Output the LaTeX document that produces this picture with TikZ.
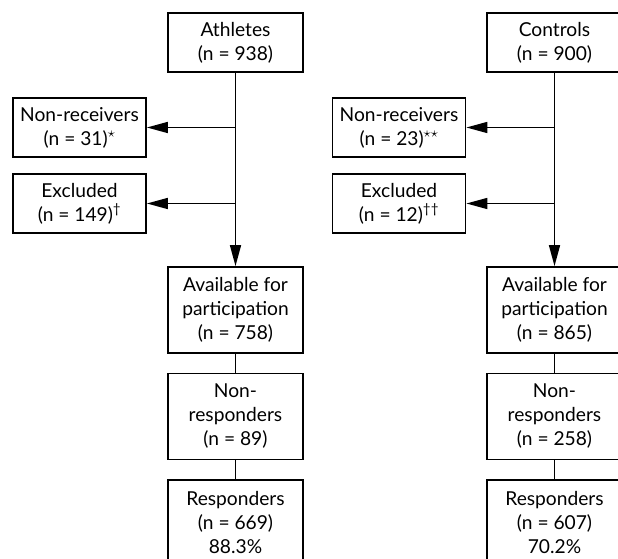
\documentclass[tikz,border=0pt]{standalone}
\usepackage{fontspec}
\setmainfont{Lato}
\usetikzlibrary{arrows.meta}

\begin{document}
\begin{tikzpicture}[x=1pt,y=1pt,
  flow/.style={draw, line width=1.8pt, align=center, inner sep=0pt,
    minimum width=135pt, minimum height=59pt,
    font=\fontsize{19.2}{24}\selectfont},
  tall/.style={flow, minimum height=86pt},
  side/.style={flow, minimum width=133pt},
  link/.style={line width=1.6pt},
  feed/.style={link, -{Triangle[length=21pt,width=11pt]}}]

\useasboundingbox (0,0) rectangle (618,559);
\clip (0,0) rectangle (618,559);

% athletes
\node[flow] (ath) at (235.5,516.5) {Athletes\\(n = 938)};
\node[side] (athnrc) at (79.5,431.5) {Non-receivers\\(n = 31)\textsuperscript{$\star$}};
\node[side] (athexc) at (79.5,355.5) {Excluded\\(n = 149)\textsuperscript{†}};
\node[tall] (athavl) at (235.5,249) {Available for\\participation\\(n = 758)};
\node[tall] (athnrs) at (235.5,142.5) {Non-\\responders\\(n = 89)};
\node[tall] (athrsp) at (235.5,36) {Responders\\(n = 669)\\88.3\%};

% controls
\node[flow] (con) at (554.5,516.5) {Controls\\(n = 900)};
\node[side] (connrc) at (399,431.5) {Non-receivers\\(n = 23)\textsuperscript{$\star\star$}};
\node[side] (conexc) at (399,355.5) {Excluded\\(n = 12)\textsuperscript{††}};
\node[tall] (conavl) at (554.5,249) {Available for\\participation\\(n = 865)};
\node[tall] (connrs) at (554.5,142.5) {Non-\\responders\\(n = 258)};
\node[tall] (conrsp) at (554.5,36) {Responders\\(n = 607)\\70.2\%};

% connectors
\draw[feed] (ath) -- (athavl);
\draw[feed] (ath.south |- athnrc.east) -- (athnrc.east);
\draw[feed] (ath.south |- athexc.east) -- (athexc.east);
\draw[link] (athavl) -- (athnrs);
\draw[link] (athnrs) -- (athrsp);

\draw[feed] (con) -- (conavl);
\draw[feed] (con.south |- connrc.east) -- (connrc.east);
\draw[feed] (con.south |- conexc.east) -- (conexc.east);
\draw[link] (conavl) -- (connrs);
\draw[link] (connrs) -- (conrsp);

\end{tikzpicture}
\end{document}
